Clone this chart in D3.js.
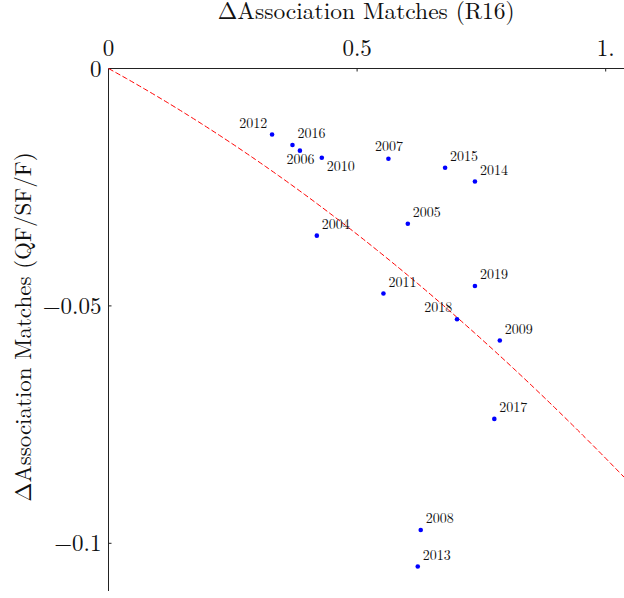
<!DOCTYPE html>
<html>
<head>
<meta charset="utf-8">
<script src="https://cdn.jsdelivr.net/npm/d3@7"></script>
<style>
  html, body { margin: 0; padding: 0; background: #fff; }
  svg { display: block; }
  text { font-family: "Latin Modern Roman", "CMU Serif", "Liberation Serif", serif; fill: #111; }
</style>
</head>
<body>
<svg id="chart" width="624" height="598"></svg>
<script>
// Season labels and their change in association matches
const years = ["2012", "2016", "2006", "2010", "2007", "2015", "2014", "2005",
               "2004", "2011", "2019", "2018", "2009", "2017", "2008", "2013"];
// change in association matches in the round of 16
const deltaR16 = [0.329, 0.370, 0.385, 0.429, 0.563, 0.677, 0.737, 0.602,
                  0.419, 0.553, 0.737, 0.701, 0.787, 0.776, 0.628, 0.622];
// change in association matches in the later rounds (QF/SF/F)
const deltaLater = [-0.0139, -0.0161, -0.0173, -0.0188, -0.0190, -0.0209, -0.0238, -0.0327,
                    -0.0352, -0.0474, -0.0458, -0.0528, -0.0573, -0.0738, -0.0972, -0.1049];

// quadratic trend through the origin: y = a*x + b*x^2
const fitCoefficients = [-0.0576, -0.0245];

const xTicks = [0, 0.5, 1];
const xTickLabels = ["0", "0.5", "1."];
const yTicks = [0, -0.05, -0.1];
const yTickLabels = ["0", "\u22120.05", "\u22120.1"];

// label placement around each point (default: upper right)
const labelPlacement = {
  "2012": "upperLeft", "2018": "upperLeft",
  "2006": "below", "2010": "belowRight", "2007": "above"
};

const svg = d3.select("#chart");
const W = 624, H = 598;

const x = d3.scaleLinear().domain([0, 1]).range([108.5, 605.7]);
const y = d3.scaleLinear().domain([0, -0.1]).range([68.5, 543.3]);
const xMax = x.invert(W);
const yMin = y.invert(591);

// axes lines
svg.append("line")
  .attr("x1", x(0)).attr("x2", W)
  .attr("y1", y(0)).attr("y2", y(0))
  .attr("stroke", "#222").attr("stroke-width", 1);
svg.append("line")
  .attr("x1", x(0)).attr("x2", x(0))
  .attr("y1", y(0)).attr("y2", y(yMin))
  .attr("stroke", "#222").attr("stroke-width", 1);

// x ticks (inward, below the top axis)
const xt = svg.append("g");
xTicks.forEach((t, i) => {
  if (t > 0) {
    xt.append("line")
      .attr("x1", x(t)).attr("x2", x(t))
      .attr("y1", y(0)).attr("y2", y(0) + 3)
      .attr("stroke", "#222");
  }
  xt.append("text")
    .attr("x", x(t)).attr("y", 56)
    .attr("text-anchor", "middle")
    .attr("font-size", 23)
    .text(xTickLabels[i]);
});

// y ticks (inward, right of the left axis)
const yt = svg.append("g");
yTicks.forEach((t, i) => {
  if (t < 0) {
    yt.append("line")
      .attr("x1", x(0)).attr("x2", x(0) + 3)
      .attr("y1", y(t)).attr("y2", y(t))
      .attr("stroke", "#222");
  }
  yt.append("text")
    .attr("x", x(0) - 7).attr("y", y(t))
    .attr("dy", "0.35em")
    .attr("text-anchor", "end")
    .attr("font-size", 23)
    .text(yTickLabels[i]);
});

// titles
svg.append("text")
  .attr("x", (x(0) + W) / 2).attr("y", 19)
  .attr("text-anchor", "middle")
  .attr("font-size", 23.5)
  .text("\u0394Association Matches (R16)");

svg.append("text")
  .attr("transform", "translate(31,327) rotate(-90)")
  .attr("text-anchor", "middle")
  .attr("font-size", 23)
  .text("\u0394Association Matches (QF/SF/F)");

// trend curve
const curveX = d3.range(0, 201).map(i => xMax * i / 200);
const line = d3.line()
  .x(d => x(d))
  .y(d => y(fitCoefficients[0] * d + fitCoefficients[1] * d * d));
svg.append("path")
  .datum(curveX)
  .attr("d", line)
  .attr("fill", "none")
  .attr("stroke", "#ff0000")
  .attr("stroke-width", 1)
  .attr("stroke-dasharray", "5.5,2.5");

// points
const pts = years.map((yr, i) => ({ yr, xv: deltaR16[i], yv: deltaLater[i] }));
svg.append("g").selectAll("circle")
  .data(pts).join("circle")
  .attr("cx", d => x(d.xv))
  .attr("cy", d => y(d.yv))
  .attr("r", 2.3)
  .attr("fill", "#0000ff");

// point labels
const offsets = {
  upperRight: { dx: 5, dy: -7, anchor: "start" },
  upperLeft: { dx: -4.8, dy: -6.8, anchor: "end" },
  below: { dx: 0.5, dy: 13.6, anchor: "middle" },
  belowRight: { dx: 5, dy: 13.3, anchor: "start" },
  above: { dx: 0.5, dy: -8, anchor: "middle" }
};
svg.append("g").selectAll("text")
  .data(pts).join("text")
  .each(function(d) {
    const o = offsets[labelPlacement[d.yr] || "upperRight"];
    d3.select(this)
      .attr("x", x(d.xv) + o.dx)
      .attr("y", y(d.yv) + o.dy)
      .attr("text-anchor", o.anchor);
  })
  .attr("font-size", 14)
  .text(d => d.yr);
</script>
</body>
</html>
